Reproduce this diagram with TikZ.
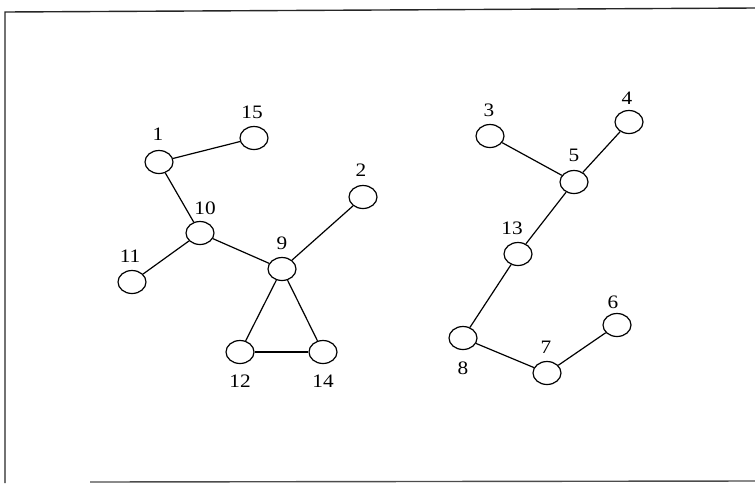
\documentclass[tikz,border=0pt]{standalone}
\usepackage{fontspec}
\setmainfont{Liberation Serif}
\usetikzlibrary{shapes.geometric}
\begin{document}
\begin{tikzpicture}[x=1pt,y=-1pt,
  vertex/.style={ellipse,draw,line width=1.2pt,minimum width=28pt,minimum height=23pt,inner sep=0pt},
  tag/.style={font=\fontsize{19}{19}\selectfont,inner sep=0pt,xscale=1.12},
  edge/.style={line width=1.2pt},
  frame/.style={line width=1.4pt,black!85}]
\useasboundingbox (0,0) rectangle (755,483);
% frame around the figure
\draw[frame] (755,8) -- (5,12) -- (5,483);
\draw[frame,black!70] (90,482) -- (755,481);
% left component
\node[vertex] (n1)  at (159,162) {};
\node[vertex] (n15) at (254,138) {};
\node[vertex] (n2)  at (363,197) {};
\node[vertex] (n10) at (200,233) {};
\node[vertex] (n9)  at (282,269) {};
\node[vertex] (n11) at (132,282) {};
\node[vertex] (n12) at (240,352) {};
\node[vertex] (n14) at (323,352) {};
% right component
\node[vertex] (n3)  at (490,136) {};
\node[vertex] (n4)  at (629,122) {};
\node[vertex] (n5)  at (574,182) {};
\node[vertex] (n13) at (518,254) {};
\node[vertex] (n8)  at (463,338) {};
\node[vertex] (n7)  at (547,373) {};
\node[vertex] (n6)  at (617,325) {};
% vertex numbers
\node[tag] (t1)  at (158,134) {1};
\node[tag] (t15) at (252,112) {15};
\node[tag] (t2)  at (361,170) {2};
\node[tag] (t10) at (205,208) {10};
\node[tag] (t9)  at (282,243) {9};
\node[tag] (t11) at (130,256) {11};
\node[tag] (t12) at (240,381) {12};
\node[tag] (t14) at (323,381) {14};
\node[tag] (t3)  at (489,110) {3};
\node[tag] (t4)  at (627,98)  {4};
\node[tag] (t5)  at (574,155) {5};
\node[tag] (t13) at (512,228) {13};
\node[tag] (t8)  at (463,368) {8};
\node[tag] (t7)  at (546,347) {7};
\node[tag] (t6)  at (613,302) {6};
% edges
\draw[edge] (n1) -- (n15);
\draw[edge] (n1) -- (n10);
\draw[edge] (n10) -- (n11);
\draw[edge] (n10) -- (n9);
\draw[edge] (n9) -- (n2);
\draw[edge] (n9) -- (n12);
\draw[edge] (n9) -- (n14);
\draw[edge] (n12) -- (n14);
\draw[edge] (n3) -- (n5);
\draw[edge] (n4) -- (n5);
\draw[edge] (n5) -- (n13);
\draw[edge] (n13) -- (n8);
\draw[edge] (n8) -- (n7);
\draw[edge] (n7) -- (n6);
\end{tikzpicture}
\end{document}
